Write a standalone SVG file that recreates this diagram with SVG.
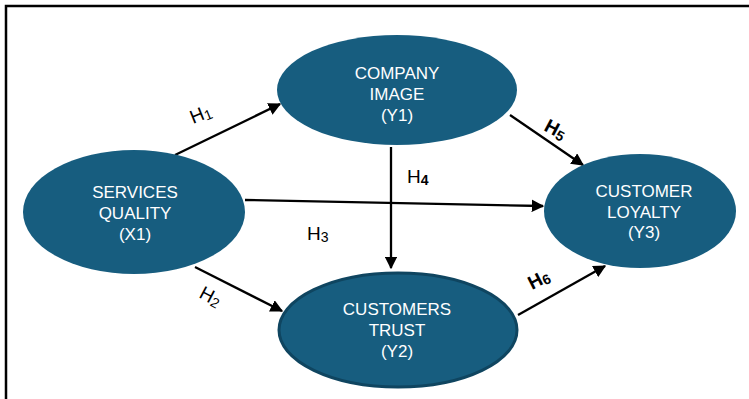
<svg xmlns="http://www.w3.org/2000/svg" width="749" height="399" viewBox="0 0 749 399">
<style>
.node{fill:#175d7f}
.nt{fill:#fff;font-family:"Liberation Sans",Arial,sans-serif;font-size:17px;text-anchor:middle}
.lab{fill:#000;font-family:"Liberation Sans",Arial,sans-serif;font-size:19px}
.sub{font-size:14px}
.b{font-weight:bold}
.c{stroke:#000;stroke-width:2.3;fill:none;marker-end:url(#ah)}
</style>
<defs>
<marker id="ah" viewBox="0 0 10 10" refX="9" refY="5" markerWidth="5.5" markerHeight="5.5" orient="auto" markerUnits="strokeWidth">
<path d="M0,0 L10,5 L0,10 z" fill="#000"/>
</marker>
</defs>
<rect width="749" height="399" fill="#fff"/>
<path d="M6,399 V6 H749" fill="none" stroke="#000" stroke-width="2.5"/>
<g id="connectors">
<line class="c" x1="175" y1="155" x2="280" y2="104"/>
<line class="c" x1="195" y1="267" x2="282" y2="311"/>
<line class="c" x1="245" y1="200" x2="543" y2="206"/>
<line class="c" x1="391" y1="147" x2="391" y2="268"/>
<line class="c" x1="510" y1="115" x2="583" y2="165"/>
<line class="c" x1="518" y1="315" x2="605" y2="266"/>
</g>
<g id="labels">
<text class="lab" transform="translate(193,124) rotate(-22)">H<tspan class="sub" dy="2">1</tspan></text>
<text class="lab" transform="translate(198,297) rotate(28)">H<tspan class="sub" dy="2">2</tspan></text>
<text class="lab" x="307" y="240">H<tspan class="sub" dy="2">3</tspan></text>
<text class="lab" x="407" y="183">H<tspan class="sub b" dy="2">4</tspan></text>
<text class="lab b" transform="translate(543,130) rotate(28)">H<tspan class="sub" dy="2">5</tspan></text>
<text class="lab b" transform="translate(532,290) rotate(-27)">H<tspan class="sub" dy="2">6</tspan></text>
</g>
<g id="x1">
<ellipse class="node" cx="134" cy="212" rx="111" ry="62"/>
<text class="nt" x="135" y="198">SERVICES</text>
<text class="nt" x="135" y="219">QUALITY</text>
<text class="nt" x="135" y="240">(X1)</text>
</g>
<g id="y1">
<ellipse class="node" cx="397" cy="90" rx="120" ry="55"/>
<text class="nt" x="397" y="79">COMPANY</text>
<text class="nt" x="397" y="100">IMAGE</text>
<text class="nt" x="397" y="121">(Y1)</text>
</g>
<g id="y2">
<ellipse class="node" cx="398" cy="330" rx="119" ry="57" stroke="#0f4560" stroke-width="3"/>
<text class="nt" x="397" y="315">CUSTOMERS</text>
<text class="nt" x="397" y="336">TRUST</text>
<text class="nt" x="397" y="357">(Y2)</text>
</g>
<g id="y3">
<ellipse class="node" cx="640" cy="211" rx="96" ry="57"/>
<text class="nt" x="644" y="197">CUSTOMER</text>
<text class="nt" x="644" y="218">LOYALTY</text>
<text class="nt" x="644" y="238">(Y3)</text>
</g>
</svg>
